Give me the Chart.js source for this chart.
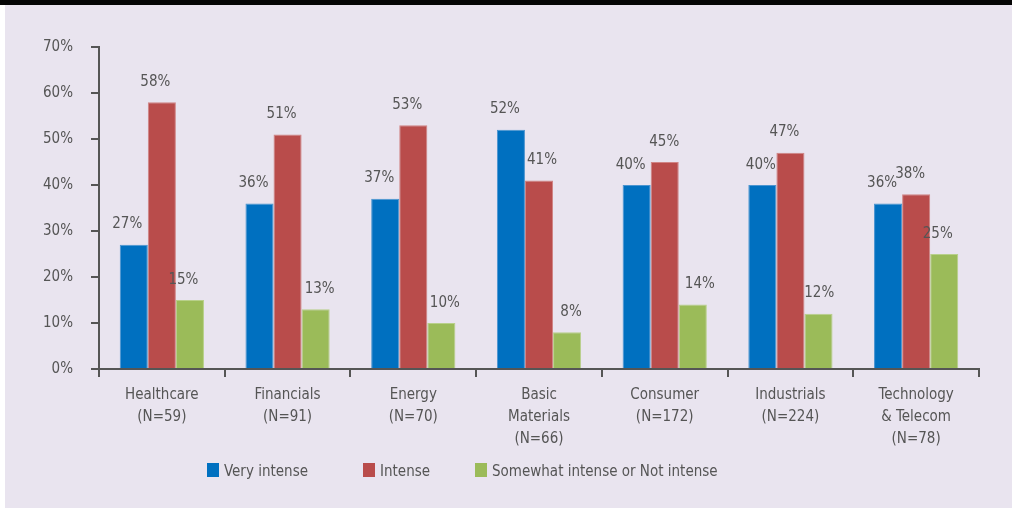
<!DOCTYPE html>
<html>
<head>
<meta charset="utf-8">
<script src="https://cdn.jsdelivr.net/npm/chart.js@4.4.1/dist/chart.umd.min.js"></script>
<style>
    html, body { margin: 0; padding: 0; background: #fff; }
    #wrap { width: 1012px; height: 508px; }
</style>
</head>
<body>
<div id="wrap"><canvas id="intensityChart" width="1012" height="508"></canvas></div>
<script>
// categorias (etiquetas en varias lineas)
const categories = [
    ['Healthcare', '(N=59)'],
    ['Financials', '(N=91)'],
    ['Energy', '(N=70)'],
    ['Basic', 'Materials', '(N=66)'],
    ['Consumer', '(N=172)'],
    ['Industrials', '(N=224)'],
    ['Technology', '& Telecom', '(N=78)']
];
const seriesNames = ['Very intense', 'Intense', 'Somewhat intense or Not intense'];
const veryIntense = [27, 36, 37, 52, 40, 40, 36];
const intense = [58, 51, 53, 41, 45, 47, 38];
const somewhatOrNot = [15, 13, 10, 8, 14, 12, 25];
const yTicks = [0, 10, 20, 30, 40, 50, 60, 70];

const FONT = '"DejaVu Sans Condensed", "Liberation Sans Narrow", sans-serif';
const TEXT = '#555555';
const colors = ['#0070C0', '#B94C4B', '#9BBB59'];
const edgeColors = ['#4A94D0', '#D08484', '#B8D08A'];

// desplazamiento horizontal de cada etiqueta (como en el original)
const labelShiftX = [
    [-6.5, -6, -6, -6, -6, -1.5, -6],
    [-6.5, -6, -6, 3, -0.5, -6, -6],
    [-6.5, 4, 3.5, 4, 7, 0.7, -6.5]
];

// fondo: franja negra arriba, panel lila
const backgroundPlugin = {
    id: 'panelBackground',
    beforeDraw(chart) {
        const { ctx, width, height } = chart;
        ctx.save();
        ctx.fillStyle = '#ffffff';
        ctx.fillRect(0, 0, width, height);
        ctx.fillStyle = '#E9E4EF';
        ctx.fillRect(5, 5, width - 5, height - 5);
        ctx.fillStyle = '#050505';
        ctx.fillRect(0, 0, width, 5);
        ctx.restore();
    }
};

// etiquetas de valor encima de cada barra
const valueLabels = {
    id: 'valueLabels',
    afterDatasetsDraw(chart) {
        const { ctx } = chart;
        ctx.save();
        ctx.font = '15px ' + FONT;
        ctx.fillStyle = TEXT;
        ctx.textAlign = 'center';
        ctx.textBaseline = 'alphabetic';
        chart.data.datasets.forEach((ds, i) => {
            chart.getDatasetMeta(i).data.forEach((bar, j) => {
                ctx.fillText(ds.data[j] + '%', bar.x + labelShiftX[i][j], bar.y - 16.5);
            });
        });
        ctx.restore();
    }
};

// leyenda abajo
const legendPlugin = {
    id: 'bottomLegend',
    afterDraw(chart) {
        const { ctx } = chart;
        const xs = [207, 363, 475];
        ctx.save();
        ctx.font = '15px ' + FONT;
        ctx.textBaseline = 'alphabetic';
        ctx.textAlign = 'left';
        chart.data.datasets.forEach((ds, i) => {
            ctx.fillStyle = ds.backgroundColor;
            ctx.fillRect(xs[i], 463, 12, 14);
            ctx.fillStyle = TEXT;
            ctx.fillText(ds.label, xs[i] + 17, 476);
        });
        ctx.restore();
    }
};

const ctx = document.getElementById('intensityChart');
new Chart(ctx, {
    type: 'bar',
    data: {
        labels: categories,
        datasets: [veryIntense, intense, somewhatOrNot].map((data, i) => ({
            label: seriesNames[i],
            data: data,
            backgroundColor: colors[i],
            borderColor: edgeColors[i],
            borderWidth: 1,
            categoryPercentage: 0.67,
            barPercentage: 1.0
        }))
    },
    options: {
        responsive: false,
        animation: false,
        layout: { padding: { top: 47, right: 33, bottom: 59, left: 0 } },
        plugins: {
            legend: { display: false },
            tooltip: { enabled: false }
        },
        scales: {
            x: {
                grid: {
                    offset: true,
                    drawOnChartArea: false,
                    tickLength: 8,
                    color: TEXT,
                    lineWidth: 2
                },
                border: { color: TEXT, width: 2 },
                ticks: {
                    color: TEXT,
                    font: { family: FONT, size: 15, lineHeight: '22px' },
                    padding: 7,
                    maxRotation: 0,
                    autoSkip: false
                },
                afterFit(scale) { scale.height = 80; }
            },
            y: {
                min: yTicks[0],
                max: yTicks[yTicks.length - 1],
                afterBuildTicks(scale) {
                    scale.ticks = yTicks.map(v => ({ value: v }));
                },
                grid: {
                    drawOnChartArea: false,
                    tickLength: 8,
                    color: TEXT,
                    lineWidth: 2
                },
                border: { color: TEXT, width: 2 },
                ticks: {
                    color: TEXT,
                    font: { family: FONT, size: 15 },
                    padding: 18,
                    callback: v => v + '%'
                },
                afterFit(scale) { scale.width = 99; }
            }
        }
    },
    plugins: [backgroundPlugin, valueLabels, legendPlugin]
});
</script>
</body>
</html>
